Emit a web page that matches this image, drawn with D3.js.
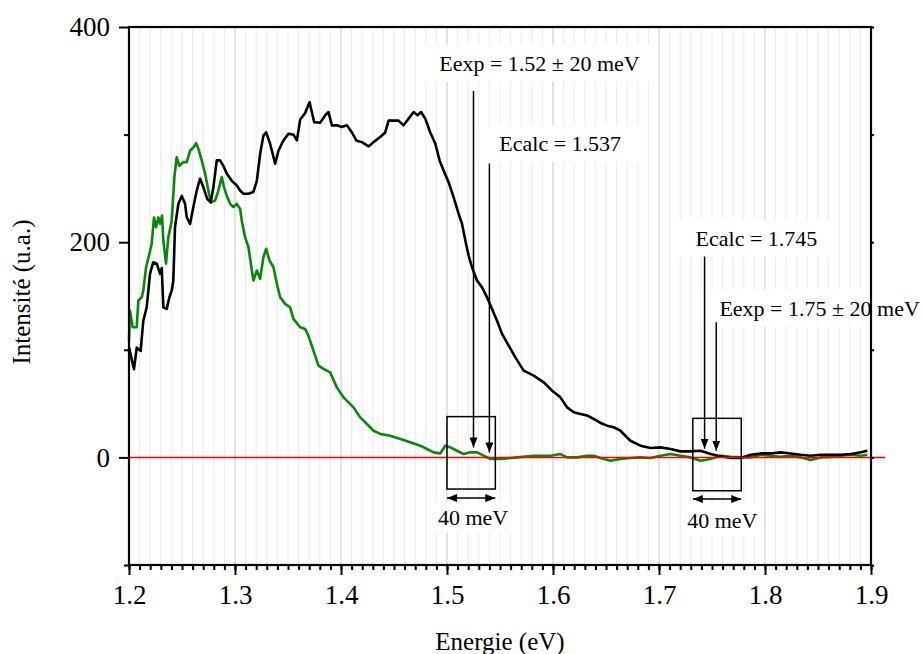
<!DOCTYPE html>
<html><head><meta charset="utf-8">
<script src="https://cdn.jsdelivr.net/npm/d3@7"></script>
<style>
body{margin:0;background:#fff}
svg{display:block}
text{font-family:"Liberation Serif","Times New Roman",serif;fill:#000}
</style>
</head><body><svg id="c" width="923" height="654"></svg>
<script>
// ---------- DATA ----------
const blackE=[1.200,1.2047,1.2073,1.2110,1.2135,1.2167,1.2198,1.2229,1.2262,1.2293,1.2309,1.2324,1.2356,1.2381,1.2403,1.2418,1.2434,1.2466,1.2498,1.2529,1.2545,1.2576,1.2607,1.2639,1.2670,1.2702,1.2739,1.2771,1.2796,1.2828,1.2859,1.2890,1.2923,1.2970,1.3017,1.3048,1.3079,1.3127,1.3174,1.3206,1.3237,1.3268,1.3294,1.3331,1.3379,1.3410,1.3457,1.3504,1.3551,1.3584,1.3615,1.3662,1.3703,1.3747,1.3804,1.3851,1.3882,1.3914,1.3961,1.4008,1.4056,1.4103,1.4144,1.4197,1.4260,1.4307,1.4370,1.4417,1.4449,1.4496,1.4543,1.4590,1.4637,1.4685,1.4722,1.4755,1.4795,1.4842,1.4890,1.4930,1.4968,1.5015,1.5062,1.5110,1.5142,1.5173,1.5204,1.5236,1.5283,1.5331,1.5378,1.5425,1.5472,1.5519,1.5582,1.5645,1.5723,1.5818,1.5912,1.5992,1.6070,1.6133,1.6196,1.6259,1.6322,1.6384,1.6448,1.6511,1.6573,1.6636,1.6730,1.6825,1.6920,1.7014,1.7109,1.7203,1.7297,1.7392,1.7487,1.7581,1.7676,1.7770,1.7865,1.7960,1.8053,1.8147,1.8242,1.8336,1.8432,1.8526,1.8621,1.8715,1.8810,1.8904,1.8966];
const blackI=[102,82,102,99,127,139.5,170.6,181.4,180,170.6,176,139.5,138,148.8,155,164,214,235.7,243,235.7,223,217,232.6,248,259,251,240,237,251,276,276,271,263.6,257,252.7,248,245,245,246.7,257,282,299,302,291.5,273,285,294.6,300.8,300,294.6,314,320,330,311.6,311,318,321,308.6,308.6,307,308.6,302,294.6,293,289,293,297.7,302,313,313,313,308.6,314.8,321,318,321,314.8,302,291.5,276,266.7,255.8,241.9,226.4,217,201.6,187.6,176.7,164.4,158,148.8,138,127,114.8,103.9,93,80.7,76,69.8,62,55.8,46.5,41.9,40.4,39,35.7,32,29.5,28,24.8,15.5,10.9,8.7,9.3,7.8,5.6,5.6,6.2,3.1,1,-0.6,-0.6,2.5,3.7,3.7,4.7,3.7,2.5,1.6,2.5,2.5,2.5,3.1,4.7,6.2];

const greenE=[1.200,1.2009,1.2035,1.2073,1.2088,1.2120,1.2135,1.2161,1.2192,1.2214,1.2236,1.2255,1.2277,1.2293,1.2312,1.2324,1.2349,1.2371,1.2403,1.2428,1.2450,1.2475,1.2513,1.2545,1.2576,1.2607,1.2633,1.2654,1.2686,1.2718,1.2749,1.2772,1.2812,1.2843,1.2875,1.2897,1.2923,1.2954,1.2985,1.3017,1.3048,1.3064,1.3095,1.3127,1.3159,1.3174,1.3206,1.3237,1.3268,1.3294,1.3325,1.3363,1.3395,1.3426,1.3473,1.3520,1.3551,1.3615,1.3662,1.3693,1.3740,1.3788,1.3835,1.3898,1.3961,1.4024,1.4118,1.4181,1.4245,1.4307,1.4370,1.4465,1.4559,1.4653,1.4748,1.4811,1.4873,1.4937,1.4984,1.5031,1.5094,1.5157,1.5220,1.5283,1.5346,1.5409,1.5503,1.5661,1.5818,1.5975,1.6070,1.6133,1.6228,1.6322,1.6384,1.6479,1.6542,1.6636,1.6730,1.6825,1.6920,1.7014,1.7109,1.7203,1.7297,1.7392,1.7487,1.7581,1.7676,1.7770,1.7865,1.7960,1.8053,1.8147,1.8242,1.8336,1.8432,1.8526,1.8621,1.8715,1.8810,1.8904,1.8966];
const greenI=[108.6,136.5,121,121,145.8,148.8,155,176.7,189,198.5,223,214,223,217,224.8,201.6,180,204.7,220,260.5,279,271,274.4,274.4,285,288,292,287,276,263.6,248,237,238.6,248,260.5,251,243,235.7,232.6,235.7,231,220,204.7,195.3,173.7,164.4,173.7,166,186,193.9,183,176.7,161.3,148.8,142.7,139.5,128.7,121,119.4,113,99.3,85.3,82.2,79,65,55.8,46.5,37.2,31,24.8,21.8,20.2,17.1,14,10.9,7.8,4.7,3.7,10.9,9.3,6.2,3.1,4.7,4.7,1.6,-1.5,-1.5,0,1.6,1.6,3.1,0,0,1.6,1.6,-1.5,-3.1,-1.5,-0.6,0,-0.6,1.6,3.1,1.6,0,-3.1,-1.5,1.6,0.5,0,0,2.5,1.6,0.5,1.6,0,-2.5,0,0.5,1.6,2.5,1.6,2.5];

const xMajorTicks=[1.2,1.3,1.4,1.5,1.6,1.7,1.8,1.9];
const xTickLabels=["1.2","1.3","1.4","1.5","1.6","1.7","1.8","1.9"];
const yMajorTicks=[0,200,400];
const yTickLabels=["0","200","400"];
const yMinorTicks=[-100,100,300];
const xTitle="Energie (eV)";
const yTitle="Intensité (u.a.)";

// annotation texts and their anchor values (data units)
const noteTexts=["Eexp = 1.52 ± 20 meV","Ecalc = 1.537","Ecalc = 1.745","Eexp = 1.75 ± 20 meV"];
const noteE=[1.4927,1.5494,1.7345,1.7570];
const noteI=[359.4,284.7,196.9,131.8];
const arrowE=[1.525,1.540,1.743,1.754];
const arrowFrom=[340.5,273.2,186.7,125.6];
const arrowTo=[9.3,4.65,8.1,6.2];
const boxE0=[1.5,1.7319], boxE1=[1.5456,1.7776];
const boxLo=[-29.4,-31], boxHi=[37.9,36.3];
const spanI=[-37.8,-38.7];
const spanText=["40 meV","40 meV"];
const spanTextE=[1.5246,1.7597];
const spanTextI=[-62.6,-65.4];

// ---------- CHART ----------
const svg=d3.select("#c");
const x=d3.scaleLinear().domain([1.2,1.9]).range([129,871]);
const y=d3.scaleLinear().domain([-100,400]).range([565,27]);
const font='"Liberation Serif","Times New Roman",serif';

const defs=svg.append("defs");
defs.append("marker").attr("id","ah").attr("viewBox","0 0 10 8").attr("refX",10).attr("refY",4)
  .attr("markerWidth",10).attr("markerHeight",8).attr("markerUnits","userSpaceOnUse").attr("orient","auto-start-reverse")
  .append("path").attr("d","M0,0L10,4L0,8Z").attr("fill","#000");

// grid
const minor=d3.range(121,190).map(d=>d/100).filter(d=>Math.round(d*100)%10!==0);
svg.append("g").selectAll("line").data(minor).join("line")
  .attr("x1",d=>x(d)).attr("x2",d=>x(d)).attr("y1",y(400)).attr("y2",y(-100))
  .attr("stroke","#ebebeb").attr("stroke-width",1);
svg.append("g").selectAll("line").data(xMajorTicks.slice(1,-1)).join("line")
  .attr("x1",d=>x(d)).attr("x2",d=>x(d)).attr("y1",y(400)).attr("y2",y(-100))
  .attr("stroke","#c6c6c6").attr("stroke-width",1);

// annotation backgrounds + texts
const noteG=svg.append("g");
noteTexts.forEach((t,i)=>{
  const g=noteG.append("g");
  const bg=g.append("rect").attr("fill","#fff");
  const tx=g.append("text").attr("x",x(noteE[i])).attr("y",y(noteI[i])).attr("font-size",22).text(t);
  const b=tx.node().getBBox();
  bg.attr("x",b.x-20).attr("y",b.y-6).attr("width",b.width+38).attr("height",b.height+12);
});
spanText.forEach((t,i)=>{
  const g=noteG.append("g");
  const bg=g.append("rect").attr("fill","#fff");
  const tx=g.append("text").attr("x",x(spanTextE[i])).attr("y",y(spanTextI[i])).attr("text-anchor","middle").attr("font-size",22).text(t);
  const b=tx.node().getBBox();
  bg.attr("x",b.x-3).attr("y",b.y-3).attr("width",b.width+6).attr("height",b.height+6);
});

// curves
const line=d3.line().x(d=>x(d[0])).y(d=>y(d[1]));
svg.append("path").datum(greenE.map((e,i)=>[e,greenI[i]])).attr("d",line)
  .attr("fill","none").attr("stroke","#0a870a").attr("stroke-width",2.6).attr("stroke-linejoin","round");
svg.append("path").datum(blackE.map((e,i)=>[e,blackI[i]])).attr("d",line)
  .attr("fill","none").attr("stroke","#000").attr("stroke-width",2.6).attr("stroke-linejoin","round");

// zero line
svg.append("line").attr("x1",x(1.2)).attr("x2",x(1.9)+14).attr("y1",y(0)).attr("y2",y(0))
  .attr("stroke","#ff0000").attr("stroke-width",1.5);

// boxes
boxE0.forEach((e0,i)=>{
  svg.append("rect").attr("x",x(e0)).attr("y",y(boxHi[i])).attr("width",x(boxE1[i])-x(e0)).attr("height",y(boxLo[i])-y(boxHi[i]))
    .attr("fill","none").attr("stroke","#000").attr("stroke-width",1.5);
  svg.append("line").attr("x1",x(e0)).attr("x2",x(boxE1[i])).attr("y1",y(spanI[i])).attr("y2",y(spanI[i]))
    .attr("stroke","#000").attr("stroke-width",1.5).attr("marker-start","url(#ah)").attr("marker-end","url(#ah)");
});
// arrows
arrowE.forEach((e,i)=>{
  svg.append("line").attr("x1",x(e)).attr("x2",x(e)).attr("y1",y(arrowFrom[i])).attr("y2",y(arrowTo[i]))
    .attr("stroke","#000").attr("stroke-width",1.5).attr("marker-end","url(#ah)");
});

// axes
const ax=svg.append("g");
const gxm=ax.append("g").attr("transform",`translate(0,${y(-100)})`)
  .call(d3.axisBottom(x).tickValues(d3.range(120,191).map(d=>d/100)).tickSize(5).tickFormat(""));
gxm.select(".domain").remove();
const gx=ax.append("g").attr("transform",`translate(0,${y(-100)})`)
  .call(d3.axisBottom(x).tickValues(xMajorTicks).tickSize(10).tickPadding(10).tickFormat((d,i)=>xTickLabels[i]));
gx.select(".domain").remove();
gx.selectAll("text").attr("font-size",27).attr("font-family",font);
const gym=ax.append("g").attr("transform",`translate(${x(1.2)},0)`)
  .call(d3.axisLeft(y).tickValues(yMinorTicks).tickSize(5).tickFormat(""));
gym.select(".domain").remove();
const gy=ax.append("g").attr("transform",`translate(${x(1.2)},0)`)
  .call(d3.axisLeft(y).tickValues(yMajorTicks).tickSize(10).tickPadding(9).tickFormat((d,i)=>yTickLabels[i]));
gy.select(".domain").remove();
gy.selectAll("text").attr("font-size",27).attr("font-family",font);
const gr=ax.append("g").attr("transform",`translate(${x(1.9)},0)`)
  .call(d3.axisRight(y).tickValues([-100,0,100,200,300,400]).tickSize(3).tickFormat(""));
gr.select(".domain").remove();
ax.selectAll(".tick line").attr("stroke","#000").attr("stroke-width",2);
ax.append("rect").attr("x",x(1.2)).attr("y",y(400)).attr("width",x(1.9)-x(1.2)).attr("height",y(-100)-y(400))
  .attr("fill","none").attr("stroke","#000").attr("stroke-width",2.2);

// titles
svg.append("text").attr("x",(x(1.2)+x(1.9))/2).attr("y",650).attr("text-anchor","middle").attr("font-size",25).text(xTitle);
svg.append("text").attr("transform",`translate(30,292) rotate(-90)`).attr("text-anchor","middle").attr("font-size",25).text(yTitle);
</script>
</body></html>
